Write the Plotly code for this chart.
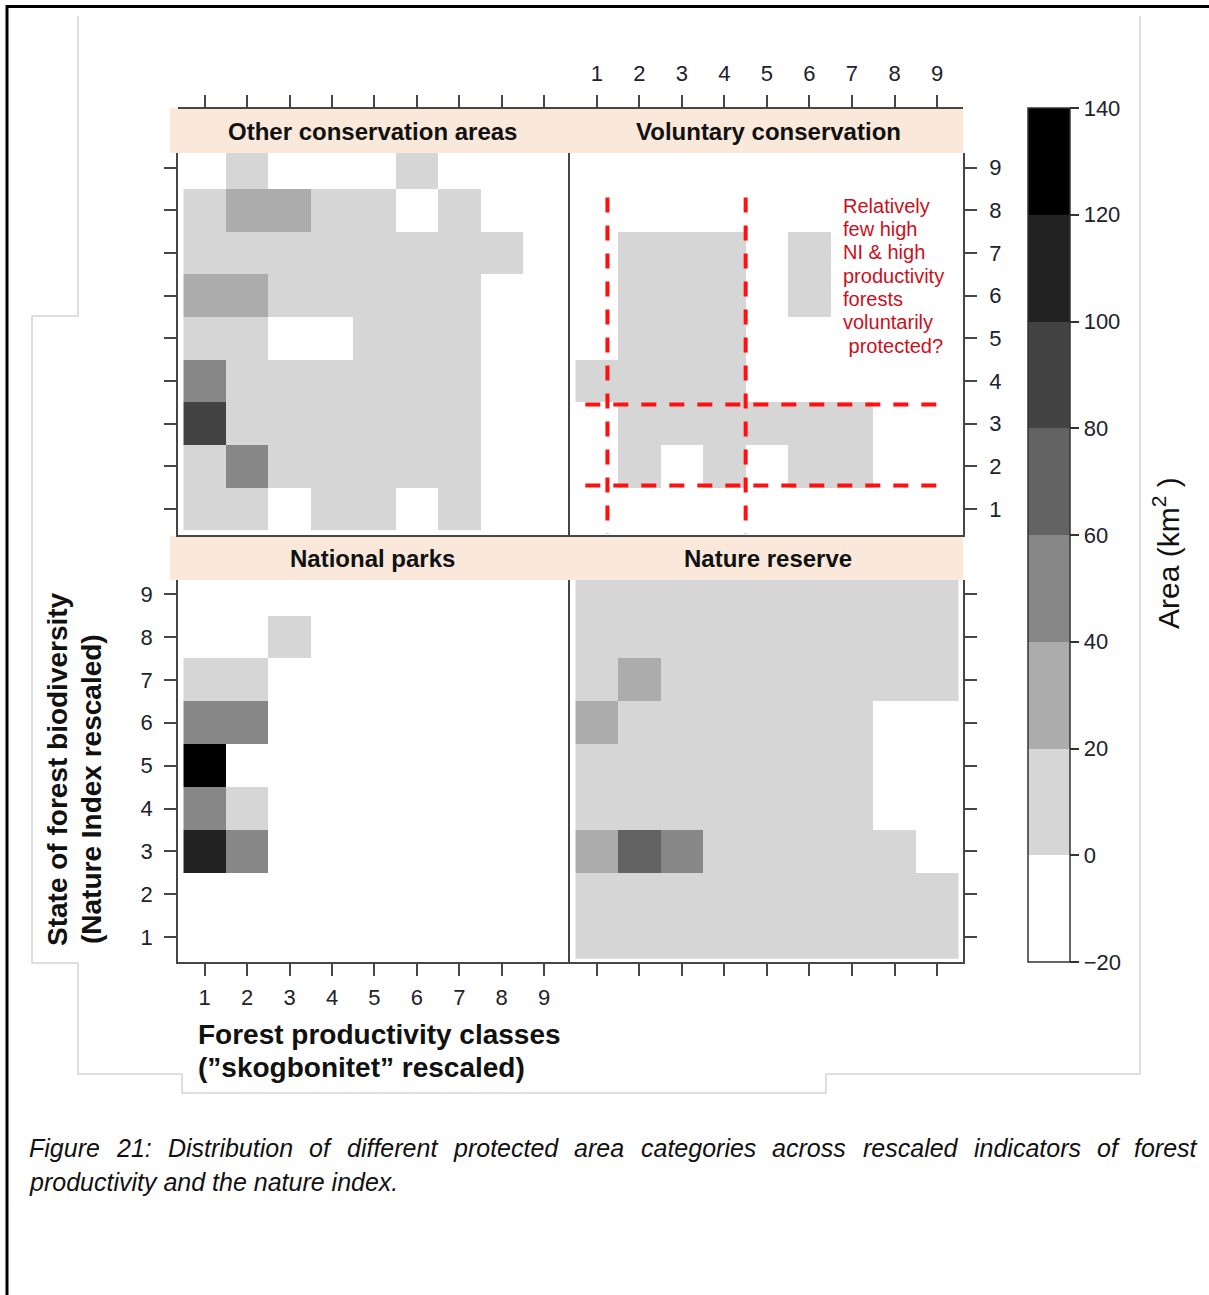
import plotly.graph_objects as go

# ---------------- data ----------------
classes = [1, 2, 3, 4, 5, 6, 7, 8, 9]
tick_labels = ["1", "2", "3", "4", "5", "6", "7", "8", "9"]
N = None

# rows listed from Nature Index class 9 (top) down to class 1 (bottom); columns = productivity 1..9
other_conservation = [
    [N, 10, N, N, N, 10, N, N, N],
    [10, 30, 30, 10, 10, N, 10, N, N],
    [10, 10, 10, 10, 10, 10, 10, 10, N],
    [30, 30, 10, 10, 10, 10, 10, N, N],
    [10, 10, N, N, 10, 10, 10, N, N],
    [50, 10, 10, 10, 10, 10, 10, N, N],
    [90, 10, 10, 10, 10, 10, 10, N, N],
    [10, 50, 10, 10, 10, 10, 10, N, N],
    [10, 10, N, 10, 10, N, 10, N, N],
]
voluntary = [
    [N, N, N, N, N, N, N, N, N],
    [N, N, N, N, N, N, N, N, N],
    [N, 10, 10, 10, N, 10, N, N, N],
    [N, 10, 10, 10, N, 10, N, N, N],
    [N, 10, 10, 10, N, N, N, N, N],
    [10, 10, 10, 10, N, N, N, N, N],
    [N, 10, 10, 10, 10, 10, 10, N, N],
    [N, 10, N, 10, N, 10, 10, N, N],
    [N, N, N, N, N, N, N, N, N],
]
national_parks = [
    [N, N, N, N, N, N, N, N, N],
    [N, N, 10, N, N, N, N, N, N],
    [10, 10, N, N, N, N, N, N, N],
    [50, 50, N, N, N, N, N, N, N],
    [130, N, N, N, N, N, N, N, N],
    [50, 10, N, N, N, N, N, N, N],
    [110, 50, N, N, N, N, N, N, N],
    [N, N, N, N, N, N, N, N, N],
    [N, N, N, N, N, N, N, N, N],
]
nature_reserve = [
    [10, 10, 10, 10, 10, 10, 10, 10, 10],
    [10, 10, 10, 10, 10, 10, 10, 10, 10],
    [10, 30, 10, 10, 10, 10, 10, 10, 10],
    [30, 10, 10, 10, 10, 10, 10, N, N],
    [10, 10, 10, 10, 10, 10, 10, N, N],
    [10, 10, 10, 10, 10, 10, 10, N, N],
    [30, 70, 50, 10, 10, 10, 10, 10, N],
    [10, 10, 10, 10, 10, 10, 10, 10, 10],
    [10, 10, 10, 10, 10, 10, 10, 10, 10],
]
panel_titles = ["Other conservation areas", "Voluntary conservation",
                "National parks", "Nature reserve"]
cbar_ticks = [-20, 0, 20, 40, 60, 80, 100, 120, 140]
grey_levels = ["#ffffff", "#d6d6d6", "#acacac", "#878787",
               "#636363", "#434343", "#222222", "#000000"]
note_lines = ["Relatively", "few high", "NI & high", "productivity",
              "forests", "voluntarily", " protected?"]
caption_line1 = "Figure 21: Distribution of different protected area categories across rescaled indicators of forest"
caption_line2 = "productivity and the nature index."
# red guide lines (data units in the Voluntary conservation panel)
vlines_x = [1.25, 4.5]
hlines_y = [3.45, 1.55]

# ---------------- helpers ----------------
W, H = 1209, 1295
def px(x):
    return x / W
def py(y):
    return 1 - y / H

FONT = "Liberation Sans, Arial, sans-serif"
AXC = "#464646"
TXT = "#20222c"

cs = []
for i, c in enumerate(grey_levels):
    cs += [[i / 8, c], [(i + 1) / 8, c]]

fig = go.Figure()
data_sets = [other_conservation, voluntary, national_parks, nature_reserve]
axes_ids = [("x", "y"), ("x2", "y2"), ("x3", "y3"), ("x4", "y4")]
for d, (xa, ya) in zip(data_sets, axes_ids):
    fig.add_trace(go.Heatmap(
        x=classes, y=classes, z=list(reversed(d)),
        coloraxis="coloraxis", xaxis=xa, yaxis=ya,
        hoverongaps=False, xgap=0, ygap=0))

# dummy traces for overlay top axes
fig.add_trace(go.Scatter(x=[None], y=[None], xaxis="x5", yaxis="y",
                         showlegend=False, hoverinfo="skip"))
fig.add_trace(go.Scatter(x=[None], y=[None], xaxis="x6", yaxis="y2",
                         showlegend=False, hoverinfo="skip"))

xr = [0.37, 9.61]
yr_top = [0.39, 9.34]
yr_bot = [0.42, 9.33]
xdom_l = [px(178), px(570)]
xdom_r = [px(570), px(963)]
ydom_t = [py(535), py(153)]
ydom_b = [py(962), py(580)]

base = dict(showgrid=False, zeroline=False, showline=True, linecolor=AXC,
            linewidth=1.5, ticks="outside", ticklen=12, tickwidth=1.5,
            tickcolor=AXC, tickmode="array", tickvals=classes, ticktext=tick_labels,
            tickfont=dict(size=22, color=TXT, family=FONT),
            ticklabelstandoff=9, fixedrange=True)

def ax(**kw):
    d = dict(base)
    d.update(kw)
    return d

fig.update_layout(
    width=W, height=H, autosize=False,
    margin=dict(l=0, r=0, t=0, b=0),
    paper_bgcolor="white", plot_bgcolor="white",
    showlegend=False,
    font=dict(family=FONT, color=TXT),
    xaxis=ax(domain=xdom_l, range=xr, anchor="y", ticks="", showticklabels=False),
    yaxis=ax(domain=ydom_t, range=yr_top, anchor="x", side="left",
             showticklabels=False, mirror=False),
    xaxis2=ax(domain=xdom_r, range=xr, anchor="y2", ticks="", showticklabels=False),
    yaxis2=ax(domain=ydom_t, range=yr_top, anchor="x2", side="right",
              showticklabels=True, mirror=True, ticklabelstandoff=8),
    xaxis3=ax(domain=xdom_l, range=xr, anchor="y3", side="bottom",
              showticklabels=True, ticklabelstandoff=3),
    yaxis3=ax(domain=ydom_b, range=yr_bot, anchor="x3", side="left",
              showticklabels=True, mirror=False, ticklabelstandoff=7),
    xaxis4=ax(domain=xdom_r, range=xr, anchor="y4", side="bottom",
              showticklabels=False),
    yaxis4=ax(domain=ydom_b, range=yr_bot, anchor="x4", side="right",
              showticklabels=False, mirror=True),
    xaxis5=ax(range=xr, overlaying="x", anchor="free", position=py(107.5),
              side="top", showticklabels=False),
    xaxis6=ax(range=xr, overlaying="x2", anchor="free", position=py(107.5),
              side="top", showticklabels=True, ticklabelstandoff=5),
    coloraxis=dict(
        cmin=-20, cmax=140, colorscale=cs,
        colorbar=dict(
            x=px(1028), xanchor="left", xpad=0,
            y=py(108), yanchor="top", ypad=0,
            len=854, lenmode="pixels",
            thickness=42, thicknessmode="pixels",
            outlinewidth=1.5, outlinecolor="#333333",
            tickmode="array", tickvals=cbar_ticks,
            tickprefix="\u2002",
            ticks="outside", ticklen=9, tickwidth=1.5, tickcolor="#333333",
            tickfont=dict(size=22, color=TXT, family=FONT),
        ),
    ),
)

shapes = []
# strips
for (y0, y1) in [(108, 153), (536, 580)]:
    shapes.append(dict(type="rect", xref="paper", yref="paper",
                       x0=px(170), x1=px(963), y0=py(y1), y1=py(y0),
                       fillcolor="#fae9da", line=dict(width=0), layer="below"))
# light grey outline of the pasted picture
pts = [(78, 16), (78, 316), (32, 316), (32, 963), (78, 963), (78, 1074),
       (182, 1074), (182, 1093), (826, 1093), (826, 1074), (1140, 1074), (1140, 16)]
path = "M " + " L ".join(f"{px(a):.5f},{py(b):.5f}" for a, b in pts)
shapes.append(dict(type="path", xref="paper", yref="paper", path=path,
                   line=dict(color="#d4d4d4", width=1.5), layer="below"))
# black page border
bpath = f"M {px(7):.5f},{py(1310):.5f} L {px(7):.5f},{py(6.5):.5f} L {px(1215):.5f},{py(6.5):.5f}"
shapes.append(dict(type="path", xref="paper", yref="paper", path=bpath,
                   line=dict(color="#000000", width=3)))
# red dashed guides in the voluntary conservation panel
for xv in vlines_x:
    shapes.append(dict(type="line", xref="x2", yref="y2", x0=xv, x1=xv,
                       y0=8.3, y1=0.42,
                       line=dict(color="#ff1010", width=4, dash="15px,13px")))
for yh in hlines_y:
    shapes.append(dict(type="line", xref="x2", yref="y2", x0=0.73, x1=9.1,
                       y0=yh, y1=yh,
                       line=dict(color="#ff1010", width=4, dash="15px,13px")))
fig.update_layout(shapes=shapes)

ann = []
strip_pos = [(372, 131), (768, 131), (372, 558), (768, 558)]
for t, (xx, yy) in zip(panel_titles, strip_pos):
    ann.append(dict(text=f"<b>{t}</b>", x=px(xx), y=py(yy), xref="paper", yref="paper",
                    showarrow=False, xanchor="center", yanchor="middle",
                    font=dict(size=24, color="#111111", family=FONT)))
for i, line in enumerate(note_lines):
    ann.append(dict(text=line, x=px(841), y=py(205.7 + i * 23.33),
                    xref="paper", yref="paper", showarrow=False,
                    xanchor="left", yanchor="middle",
                    font=dict(size=20, color="#cc1020", family=FONT)))
# y-axis title
ann.append(dict(text="<b>State of forest biodiversity</b>", x=px(58), y=py(769),
                xref="paper", yref="paper", showarrow=False, textangle=-90,
                xanchor="center", yanchor="middle",
                font=dict(size=28, color="#111111", family=FONT)))
ann.append(dict(text="<b>(Nature Index rescaled)</b>", x=px(91), y=py(789),
                xref="paper", yref="paper", showarrow=False, textangle=-90,
                xanchor="center", yanchor="middle",
                font=dict(size=28, color="#111111", family=FONT)))
# x-axis title
ann.append(dict(text="<b>Forest productivity classes</b>", x=px(196), y=py(1034),
                xref="paper", yref="paper", showarrow=False,
                xanchor="left", yanchor="middle",
                font=dict(size=28, color="#111111", family=FONT)))
ann.append(dict(text="<b>(\u201dskogbonitet\u201d rescaled)</b>", x=px(196), y=py(1067),
                xref="paper", yref="paper", showarrow=False,
                xanchor="left", yanchor="middle",
                font=dict(size=28, color="#111111", family=FONT)))
# colorbar title
ann.append(dict(text="Area (km<sup>2</sup> )", x=px(1166), y=py(553),
                xref="paper", yref="paper", showarrow=False, textangle=-90,
                xanchor="center", yanchor="middle",
                font=dict(size=30, color="#111111", family=FONT)))

# caption: first line justified word by word (Arial / Liberation Sans metrics)
ARIAL = {c: 556 for c in "abdeghnopqu0123456789"}
ARIAL.update({"c": 500, "k": 500, "s": 500, "v": 500, "x": 500, "y": 500, "z": 500,
              "f": 278, "t": 278, "i": 222, "j": 222, "l": 222, "r": 333, "m": 833,
              "w": 722, ":": 278, ".": 278, " ": 278, "F": 611, "D": 722})
CAP_SIZE = 25
def text_w(s):
    return sum(ARIAL.get(ch, 556) for ch in s) / 1000 * CAP_SIZE
words = caption_line1.split(" ")
left, right = 27, 1195
total = sum(text_w(w) for w in words)
gap = (right - left - total) / (len(words) - 1)
xcur = left
cap_font = dict(size=CAP_SIZE, color="#111111", family=FONT)
for w in words:
    ann.append(dict(text=f"<i>{w}</i>", x=px(xcur), y=py(1148), xref="paper", yref="paper",
                    showarrow=False, xanchor="left", yanchor="middle", font=cap_font))
    xcur += text_w(w) + gap
ann.append(dict(text=f"<i>{caption_line2}</i>", x=px(left), y=py(1182),
                xref="paper", yref="paper", showarrow=False,
                xanchor="left", yanchor="middle", font=cap_font))
fig.update_layout(annotations=ann)

fig.write_html("out.html",
               config={"displayModeBar": False},
               post_script="document.body.style.margin='0px';document.body.style.padding='0px';")
